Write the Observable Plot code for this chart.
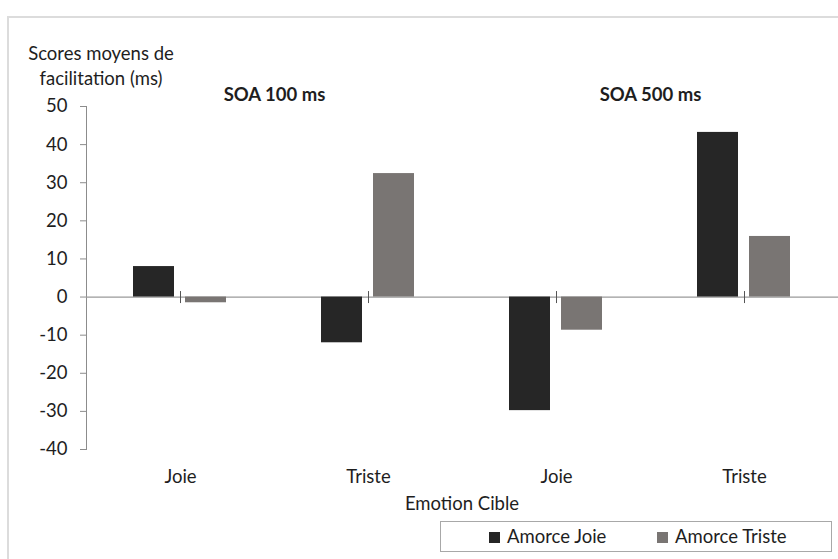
<!DOCTYPE html>
<html>
<head>
<meta charset="utf-8">
<script src="https://cdn.jsdelivr.net/npm/d3@7"></script>
<script src="https://cdn.jsdelivr.net/npm/@observablehq/plot@0.6"></script>
<style>
  html, body { margin: 0; padding: 0; background: #fff; }
  #wrap { position: relative; width: 838px; height: 559px; overflow: hidden; font-family: Lato, sans-serif; color: #1e1e1e; }
  #border { position: absolute; left: 7px; top: 16px; width: 840px; height: 560px; border-top: 2px solid #dcdcdc; border-left: 2px solid #dcdcdc; box-sizing: border-box; }
  #ylabel { position: absolute; left: 0; top: 41px; width: 202px; text-align: center; font-size: 18.5px; line-height: 25px; }
  #xlabel { position: absolute; left: 362px; top: 491px; width: 200px; text-align: center; font-size: 18.5px; line-height: 24px; }
  #legend { position: absolute; left: 440px; top: 521px; width: 392px; height: 31px; border: 1px solid #a8a8a8; box-sizing: border-box; font-size: 18.5px; }
  .item { position: absolute; top: 0; height: 29px; line-height: 29px; white-space: nowrap; }
  .sw { display: inline-block; width: 11px; height: 11px; margin-right: 7px; vertical-align: 0px; }
  #chart { position: absolute; left: 0; top: 0; }
</style>
</head>
<body>
<div id="wrap">
  <div id="border"></div>
  <div id="chart"></div>
  <div id="ylabel"></div>
  <div id="xlabel"></div>
  <div id="legend"></div>
</div>
<script>
// ---- Data ----
const groups = ["Joie (SOA 100 ms)", "Triste (SOA 100 ms)", "Joie (SOA 500 ms)", "Triste (SOA 500 ms)"];
const groupLabels = ["Joie", "Triste", "Joie", "Triste"];
const series = ["Amorce Joie", "Amorce Triste"];
const amorceJoie = [8, -12, -29.8, 43.2];
const amorceTriste = [-1.5, 32.4, -8.7, 15.9];
const soaTitles = ["SOA 100 ms", "SOA 500 ms"];
const soaTitleGroups = [groups[1], groups[3]];
const yTicks = [-40, -30, -20, -10, 0, 10, 20, 30, 40, 50];
const yLabelLines = ["Scores moyens de", "facilitation (ms)"];
const xLabel = "Emotion Cible";
const colors = ["#262626", "#797573"];

// ---- Build table ----
const rows = [];
groups.forEach((g, i) => {
  rows.push({group: g, series: series[0], value: amorceJoie[i]});
  rows.push({group: g, series: series[1], value: amorceTriste[i]});
});
const titleRows = soaTitles.map((t, i) => ({group: soaTitleGroups[i], text: t}));
const labelOf = new Map(groups.map((g, i) => [g, groupLabels[i]]));

// vertical line symbol for axis ticks on the zero line
const vline = {
  draw(context, size) {
    const r = Math.sqrt(size / Math.PI);
    context.moveTo(0, -r);
    context.lineTo(0, r);
  }
};

const chart = Plot.plot({
  width: 838,
  height: 559,
  marginLeft: 86,
  marginRight: 0,
  marginTop: 106,
  marginBottom: 110,
  style: {fontFamily: "Lato, sans-serif", fontSize: "18.5px", color: "#1e1e1e", background: "transparent"},
  fx: {domain: groups, padding: 0, label: null},
  x: {domain: series, paddingInner: 0.21, paddingOuter: 0.88, axis: null},
  y: {domain: [-40, 50], axis: null},
  color: {domain: series, range: colors},
  marks: [
    Plot.frame({anchor: "left", facetAnchor: "left", stroke: "#8c8c8c"}),
    Plot.axisY({ticks: yTicks, tickSize: 6, tickPadding: 13, tickFormat: d => String(d), stroke: "#8c8c8c", fill: "#1e1e1e", label: null, facetAnchor: "left"}),
    Plot.axisFx({anchor: "bottom", tickSize: 0, tickPadding: 20, tickFormat: d => labelOf.get(d), label: null, fill: "#1e1e1e"}),
    Plot.ruleY([0], {stroke: "#9a9a9a", strokeWidth: 1.2}),
    Plot.barY(rows, {fx: "group", x: "series", y: "value", fill: "series"}),
    Plot.dot(groups, {fx: d => d, y: () => 0, symbol: vline, r: 6, stroke: "#555", strokeWidth: 1}),
    Plot.dot([groups[3]], {fx: d => d, y: () => 0, frameAnchor: "right", symbol: vline, r: 6, stroke: "#555", strokeWidth: 1}),
    Plot.text(titleRows, {fx: "group", text: "text", frameAnchor: "top-left", textAnchor: "middle", dy: -19, fontWeight: "bold", fontSize: 18.5, fill: "#1e1e1e"})
  ]
});
document.getElementById("chart").appendChild(chart);

document.getElementById("ylabel").innerHTML = yLabelLines.join("<br>");
document.getElementById("xlabel").textContent = xLabel;

const legend = document.getElementById("legend");
const legendLefts = [48, 216];
series.forEach((s, i) => {
  const it = document.createElement("div");
  it.className = "item";
  it.style.left = legendLefts[i] + "px";
  const sw = document.createElement("span");
  sw.className = "sw";
  sw.style.background = colors[i];
  it.appendChild(sw);
  it.appendChild(document.createTextNode(s));
  legend.appendChild(it);
});
</script>
</body>
</html>
